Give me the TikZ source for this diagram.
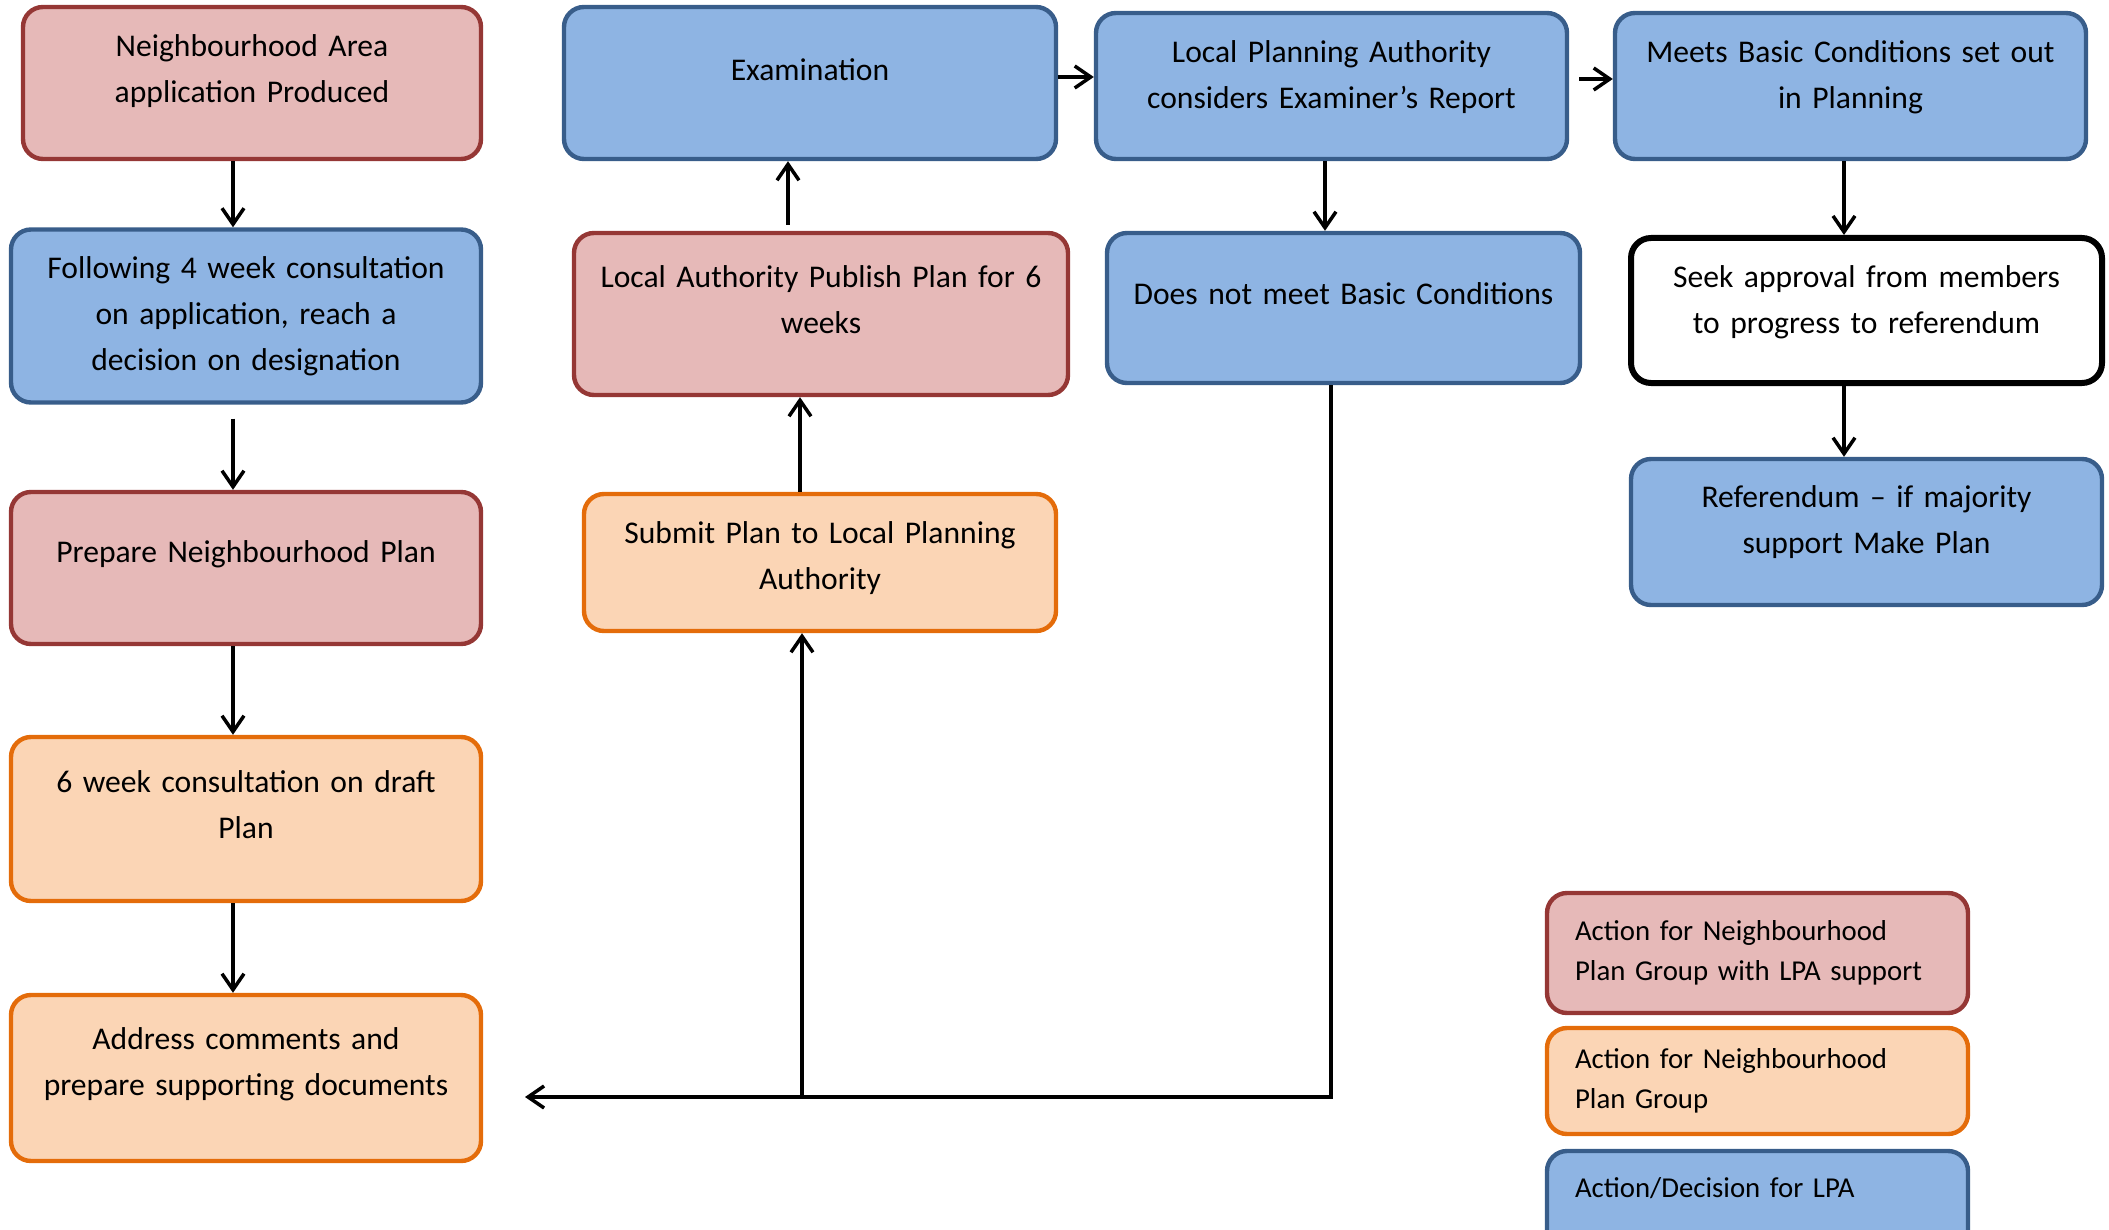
\documentclass[tikz,border=0pt]{standalone}
\usepackage{fontspec}
\setmainfont{Carlito}
\usetikzlibrary{arrows.meta,positioning}

\definecolor{pinkfill}{HTML}{E6B9B8}
\definecolor{pinkline}{HTML}{953735}
\definecolor{orangefill}{HTML}{FBD5B5}
\definecolor{orangeline}{HTML}{E46C0A}
\definecolor{bluefill}{HTML}{8EB4E3}
\definecolor{blueline}{HTML}{385D8A}

\begin{document}
\begin{tikzpicture}[x=0.5pt,y=-0.5pt,
  lift/.code={\def\liftdepth{#1}},
  panel/.style 2 args={draw,line width=2.2pt,rounded corners=10pt,inner xsep=0pt,inner ysep=0pt,
    text width=#1*0.5pt,minimum height=#2*0.5pt,lift=14pt,
    execute at end node={\vrule width0pt height0pt depth\liftdepth}},
  box/.style 2 args={panel={#1}{#2},align=center,font=\fontsize{15.8}{23}\selectfont},
  key/.style 2 args={panel={#1}{#2},align=left,lift=0pt,inner xsep=14pt,font=\fontsize{14.4}{20}\selectfont},
  nbhd/.style={fill=pinkfill,draw=pinkline},
  grp/.style={fill=orangefill,draw=orangeline},
  lpa/.style={fill=bluefill,draw=blueline},
  member/.style={fill=white,draw=black,line width=3pt},
  arr/.style={line width=1.75pt,-{Straight Barb[length=8pt,width=11pt]}}
]
\useasboundingbox (0,0) rectangle (2109,1230);

\node[box={458}{152},nbhd] (area) at (252,83) {Neighbourhood Area\\application Produced};
\node[box={470}{173},lpa,lift=0pt] (desig) at (246,316) {Following 4 week consultation\\on application, reach a\\decision on designation};
\node[box={470}{152},nbhd,lift=16pt] (prep) at (246,568) {Prepare Neighbourhood Plan};
\node[box={470}{164},grp] (draft) at (246,819) {6 week consultation on draft\\Plan};
\node[box={470}{166},grp,lift=16pt] (address) at (246,1078) {Address comments and\\prepare supporting documents};

\node[box={492}{152},lpa,lift=13pt] (exam) at (810,83) {Examination};
\node[box={494}{162},nbhd] (publish) at (821,314) {Local Authority Publish Plan for 6\\weeks};
\node[box={472}{137},grp,lift=7pt] (submit) at (820,562.5) {Submit Plan to Local Planning\\Authority};

\node[box={471}{146},lpa,lift=11pt] (report) at (1331.5,86) {Local Planning Authority\\considers Examiner’s Report};
\node[box={473}{150},lpa] (notmet) at (1343.5,308) {Does not meet Basic Conditions};

\node[box={471}{146},lpa,lift=11pt] (met) at (1850.5,86) {Meets Basic Conditions set out\\in Planning};
\node[box={471}{145},member,lift=11pt] (seek) at (1866.5,310.5) {Seek approval from members\\to progress to referendum};
\node[box={471}{146},lpa,lift=12pt] (vote) at (1866.5,532) {Referendum – if majority\\support Make Plan};

\node[key={365}{120},nbhd] (k1) at (1757.5,953) {Action for Neighbourhood\\Plan Group with LPA support};
\node[key={365}{106},grp] (k2) at (1757.5,1081) {Action for Neighbourhood\\Plan Group};
\node[key={365}{120},lpa,lift=24pt] (k3) at (1757.5,1211) {Action/Decision for LPA};

\draw[arr] ([xshift=-9.5pt]area.south) -- ([xshift=-9.5pt]area.south |- desig.north);
\draw[arr] ([xshift=-6.5pt,yshift=-7pt]desig.south) -- ([xshift=-6.5pt]desig.south |- prep.north);
\draw[arr] ([xshift=-6.5pt]prep.south) -- ([xshift=-6.5pt]prep.south |- draft.north);
\draw[arr] ([xshift=-6.5pt]draft.south) -- ([xshift=-6.5pt]draft.south |- address.north);

\draw[arr] ([xshift=-10pt]submit.north) -- ([xshift=-10pt]submit.north |- publish.south);
\draw[arr] ([xshift=-16.5pt,yshift=3pt]publish.north) -- ([xshift=-16.5pt]publish.north |- exam.south);
\draw[arr] ([yshift=3pt]exam.east) -- ([yshift=3pt]exam.east -| report.west);
\draw[arr] ([xshift=5pt,yshift=3.5pt]report.east) -- ([yshift=3.5pt]report.east -| met.west);
\draw[arr] ([xshift=-3.25pt]report.south) -- ([xshift=-3.25pt]report.south |- notmet.north);
\draw[arr] ([xshift=-3.25pt]met.south) -- ([xshift=-3.25pt]met.south |- seek.north);
\draw[arr] ([xshift=-11.25pt]seek.south) -- ([xshift=-11.25pt]seek.south |- vote.north);

\coordinate (back) at (525,1097);
\coordinate (join) at (802,1097);
\draw[arr] ([xshift=-6.25pt]notmet.south) |- (back);
\draw[arr] (join) -- (join |- submit.south);
\end{tikzpicture}
\end{document}
